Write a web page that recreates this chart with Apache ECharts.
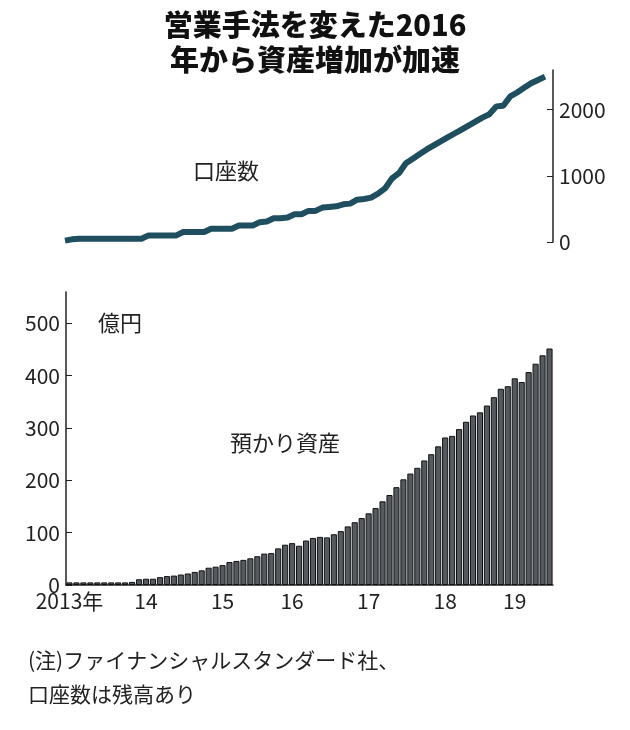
<!DOCTYPE html>
<html>
<head>
<meta charset="utf-8">
<script src="https://cdn.jsdelivr.net/npm/echarts@6/dist/echarts.min.js"></script>
<style>html,body{margin:0;background:#fff}#main{width:630px;height:730px}</style>
</head>
<body>
<div id="main"></div>
<script>
// 預かり資産（億円）
const assets = [
  5,5,5,5,5,5,5,5,5,6,
  11,12,12,15,17,18,20,22,25,28,
  33,35,38,44,46,48,51,55,60,61,
  70,77,80,75,85,90,92,91,97,103,
  112,120,128,137,147,160,172,187,202,213,
  224,238,250,265,282,285,298,312,324,330,
  343,359,375,380,395,388,407,423,439,452
]
// 口座数
const accounts = [
  20,40,
  50,50,50,50,50,50,50,50,50,50,
  100,100,100,100,100,
  150,150,150,150,
  200,200,200,200,
  250,250,250,
  300,310,
  360,360,370,420,
  420,470,470,
  520,530,540,570,
  580,640,650,
  670,730,810,
  960,1040,
  1190,1260,1330,1400,1460,1520,1580,1640,
  1700,1760,1820,1880,1930,
  2050,2060,
  2200,2260,2330,2400,2450,2500
]
// 年ラベル（カテゴリ位置）
const yearLabels = {0:'2013年',11:'14',22:'15',32:'16',43:'17',54:'18',64:'19'}
const cats = assets.map((v,i)=>String(i))

const font = '"Noto Sans CJK JP", sans-serif'
const chart = echarts.init(document.getElementById('main'))
chart.setOption({
  animation:false,
  textStyle:{fontFamily:font},
  title:[{
    text:'営業手法を変えた2016\n年から資産増加が加速',
    left:310, top:2, textAlign:'center',
    textStyle:{fontSize:29, fontWeight:900, color:'#111', lineHeight:35, fontFamily:font}
  }],
  graphic:[
    {type:'text', left:193, top:160, style:{text:'口座数', fill:'#222', font:'22px '+font}},
    {type:'text', left:98, top:312, style:{text:'億円', fill:'#222', font:'22px '+font}},
    {type:'text', left:230, top:432, style:{text:'預かり資産', fill:'#222', font:'22px '+font}},
    {type:'text', left:28, top:643, style:{text:'(注)ファイナンシャルスタンダード社、\n口座数は残高あり', fill:'#222', font:'21px '+font, lineHeight:34}}
  ],
  grid:[
    {left:65, right:85, top:70, bottom:488},
    {left:66, right:77, top:292, bottom:145}
  ],
  xAxis:[
    {gridIndex:0, type:'category', data:cats, boundaryGap:false, show:false},
    {gridIndex:1, type:'category', data:cats,
      axisLine:{lineStyle:{color:'#222', width:1.5}},
      axisTick:{show:false},
      axisLabel:{interval:0, color:'#222', fontSize:21, margin:6,
        formatter:(v,i)=>yearLabels[i]||''}}
  ],
  yAxis:[
    {gridIndex:0, type:'value', position:'right', offset:8, min:0, max:2600, interval:1000,
      axisLine:{show:true, lineStyle:{color:'#222', width:1.5}},
      axisTick:{show:true, length:-6, lineStyle:{color:'#222'}},
      axisLabel:{color:'#222', fontSize:21, margin:6, showMaxLabel:false, formatter:v=>String(v)},
      splitLine:{show:false}},
    {gridIndex:1, type:'value', min:0, max:560, interval:100,
      axisLine:{show:true, lineStyle:{color:'#222', width:1.5}},
      axisTick:{show:true, length:-6, lineStyle:{color:'#222'}},
      axisLabel:{color:'#222', fontSize:21, margin:6, showMaxLabel:false},
      splitLine:{show:false}}
  ],
  series:[
    {type:'line', xAxisIndex:0, yAxisIndex:0, data:accounts, symbol:'none',
      lineStyle:{color:'#1f4e5f', width:6}},
    {type:'bar', xAxisIndex:1, yAxisIndex:1, data:assets, barCategoryGap:'12%',
      itemStyle:{color:'#555a60', borderColor:'#111', borderWidth:1}}
  ]
})
</script>
</body>
</html>
